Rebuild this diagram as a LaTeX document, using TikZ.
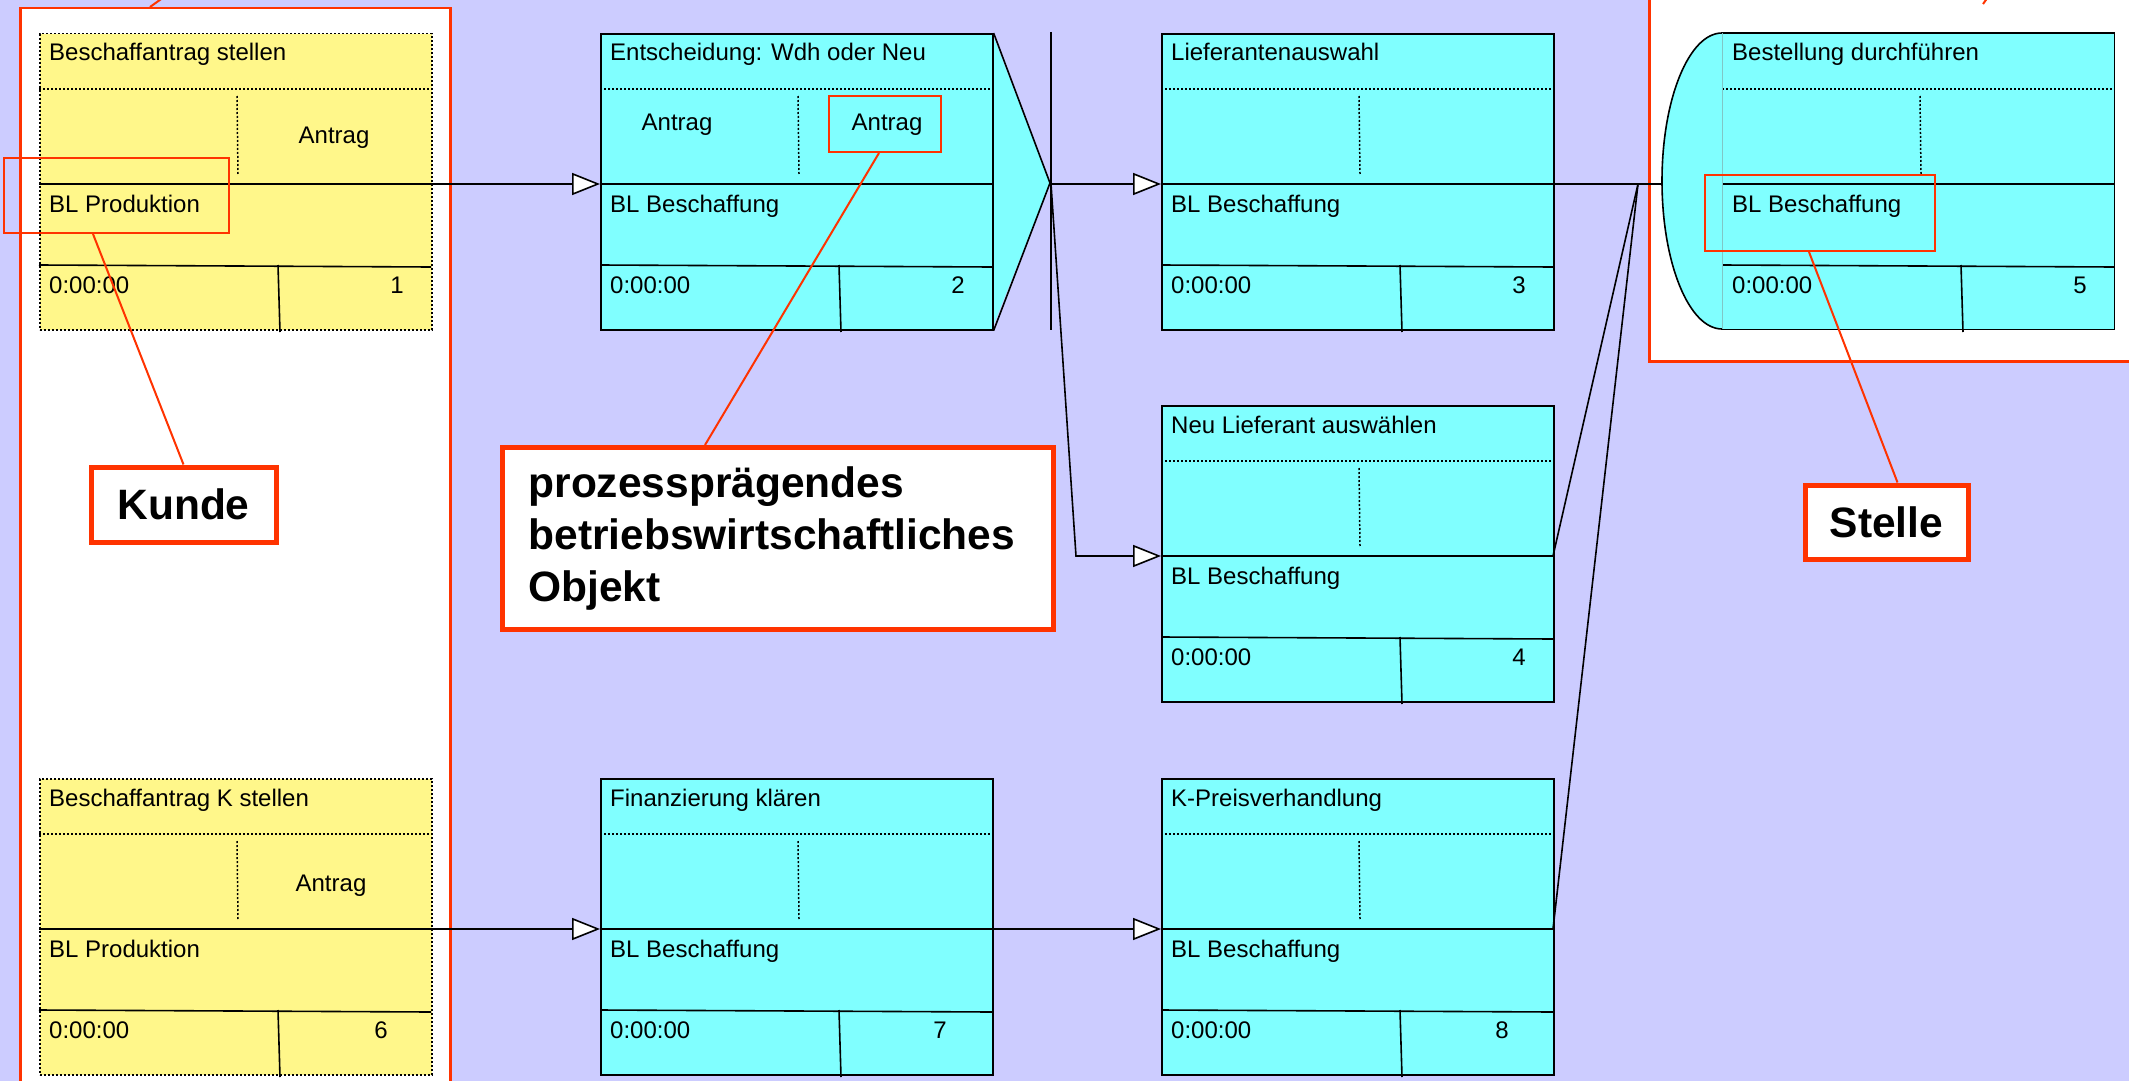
\documentclass[tikz,border=0pt]{standalone}
\usepackage{fontspec}
\setmainfont{Liberation Sans}
\usetikzlibrary{arrows.meta,calc}
\definecolor{bg}{RGB}{204,204,255}
\definecolor{cy}{RGB}{128,255,255}
\definecolor{ye}{RGB}{255,247,138}
\definecolor{rd}{RGB}{255,51,0}
\tikzset{
  cbox/.style={draw=black, line width=1.6pt, fill=cy, minimum width=392pt, minimum height=296pt, inner sep=0pt},
  c5box/.style={draw=none, fill=cy, minimum width=392pt, minimum height=296pt, inner sep=0pt},
  ybox/.style={draw=black, line width=1.5pt, dash pattern=on 2pt off 2pt, fill=ye, minimum width=392pt, minimum height=296pt, inner sep=0pt},
  dotline/.style={line width=1.5pt, dash pattern=on 2pt off 2pt},
  sepline/.style={line width=1.6pt},
  plain/.style={line width=1.6pt},
  txt/.style={inner sep=0pt, font=\fontsize{24}{28}\selectfont},
  big/.style={font=\bfseries\fontsize{42.5}{51.6}\selectfont},
  callout/.style={draw=rd, line width=5pt, fill=white, inner sep=0pt},
  hl/.style={draw=rd, line width=2pt, inner sep=0pt},
  redline/.style={draw=rd, line width=2pt},
  conn/.style={line width=1.6pt, -{Triangle[length=28pt,width=22pt,fill=white]}},
}
\newcommand\procbox[8]{%
  \begin{scope}[shift={(#2,#3)}]
    \node[#4, anchor=north west] (#1) at (0,0) {};
    \draw[dotline] (0,56) -- (392,56);
    \draw[dotline] (198,63) -- (199,141);
    \draw[sepline] (0,151) -- (392,151);
    \draw[sepline] (0,232) -- (392,234);
    \draw[sepline] (239,232) -- (241,299);
    \node[txt, anchor=base west] (#1-title) at (10,28) {#5};
    \node[txt, anchor=base west] (#1-role) at (10,179) {#6};
    \node[txt, anchor=base west] (#1-time) at (10,260) {0:00:00};
    \node[txt, anchor=base east] (#1-num) at (#8,260) {#7};
    \coordinate (#1-in) at (0,151);
    \coordinate (#1-out) at (392,151);
  \end{scope}}
\begin{document}
\begin{tikzpicture}[x=1pt, y=-1pt]
  \useasboundingbox (0,0) rectangle (2129,1081);
  \fill[bg] (0,0) rectangle (2129,1081);
  \clip (0,0) rectangle (2129,1081);

  % swimlane areas
  \node[draw=rd, fill=white, line width=2.5pt, anchor=north west, minimum width=430pt, minimum height=1100pt, inner sep=0pt] (lane) at (19,7) {};
  \node[draw=rd, fill=white, line width=2.5pt, anchor=north west, minimum width=520pt, minimum height=380pt, inner sep=0pt] (region) at (1648,-20) {};
  \draw[redline] (lane.north west) ++(131,0) -- ++(14,-10);
  \draw[redline] (1983,4) -- (1988,-3);

  % process boxes
  \procbox{n1}{39}{33}{ybox}{Beschaffantrag stellen}{BL Produktion}{1}{365}
  \node[txt, anchor=base] (n1-obj) at (334,143) {Antrag};

  \fill[cy] (992,33) -- (1050,183) -- (992,329) -- cycle;
  \procbox{n2}{600}{33}{cbox}{Entscheidung: Wdh oder Neu}{BL Beschaffung}{2}{365}
  \draw[plain] (n2.north east) -- (1050,183) -- (n2.south east);
  \node[txt, anchor=base] (n2-obj1) at (677,130) {Antrag};
  \node[txt, anchor=base] (n2-obj2) at (887,130) {Antrag};

  \procbox{n3}{1161}{33}{cbox}{Lieferantenauswahl}{BL Beschaffung}{3}{365}
  \procbox{n4}{1161}{405}{cbox}{Neu Lieferant auswählen}{BL Beschaffung}{4}{365}

  \filldraw[fill=cy, draw=black, line width=1.6pt] (1722,33) .. controls (1689,33) and (1662,99) .. (1662,181) .. controls (1662,263) and (1689,329) .. (1722,329);
  \procbox{n5}{1722}{33}{c5box}{Bestellung durchführen}{BL Beschaffung}{5}{365}
  \draw[plain] (n5.north west) -- (n5.north east) -- (n5.south east) -- (n5.south west);
  \draw[cy!55!gray, line width=0.8pt] (n5.north west) -- (n5.south west);
  \coordinate (n5-left) at (1662,184);

  \procbox{n6}{39}{778}{ybox}{Beschaffantrag K stellen}{BL Produktion}{6}{349}
  \node[txt, anchor=base] (n6-obj) at (331,891) {Antrag};
  \procbox{n7}{600}{778}{cbox}{Finanzierung klären}{BL Beschaffung}{7}{347}
  \procbox{n8}{1161}{778}{cbox}{K-Preisverhandlung}{BL Beschaffung}{8}{348}

  % operator bar and junction
  \node[minimum width=0pt, minimum height=298pt, inner sep=0pt] (bar) at (1051,181) {};
  \draw[plain] (bar.north) -- (bar.south);
  \coordinate (bar-c) at (1051,184);
  \coordinate (bend4) at (1076,556);
  \coordinate (j5) at (1638,184);

  % connectors
  \draw[conn] (n1-out) -- (n2-in);
  \draw[conn] (bar-c) -- (n3-in);
  \draw[conn] (bar-c) -- (bend4) -- (n4-in);
  \draw[plain] (n3-out) -- (j5) -- (n5-left);
  \draw[plain] (n4-out) -- (j5);
  \draw[plain] (n8-out) -- (j5);
  \draw[conn] (n6-out) -- (n7-in);
  \draw[conn] (n7-out) -- (n8-in);

  % highlights
  \node[hl, anchor=north west, minimum width=225pt, minimum height=75pt] (h1) at (3,157) {};
  \node[hl, anchor=north west, minimum width=112pt, minimum height=56pt] (h2) at (828,95) {};
  \node[hl, anchor=north west, minimum width=230pt, minimum height=76pt] (h5) at (1704,174) {};

  % callouts
  \node[callout, big, minimum width=185pt, minimum height=75pt] (kunde) at (183.5,504.5) {Kunde};
  \node[callout, big, minimum width=163pt, minimum height=74pt] (stelle) at (1886.5,522) {Stelle};
  \node[callout, big, anchor=north west, minimum height=182pt, text width=499pt, inner xsep=26pt, align=left] (obj) at (500,445) {prozessprägendes\\betriebswirtschaftliches\\Objekt};

  \draw[redline] ($(h1.south west)+(90,0)$) -- (kunde.north);
  \draw[redline] ($(h2.south west)+(51,0)$) -- ($(obj.north west)+(205,0)$);
  \draw[redline] ($(h5.south west)+(105,0)$) -- ($(stelle.north)+(11,0)$);
\end{tikzpicture}
\end{document}
